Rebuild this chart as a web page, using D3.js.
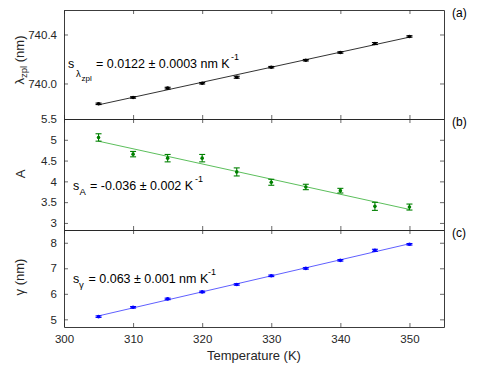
<!DOCTYPE html>
<html>
<head>
<meta charset="utf-8">
<script src="https://cdn.jsdelivr.net/npm/d3@7"></script>
<style>
  body { margin: 0; background: #fff; }
  svg { font-family: 'Liberation Sans', Arial, sans-serif; }
</style>
</head>
<body>
<svg id="chart" width="491" height="368"></svg>
<script>
// measured data, temperature in K
const temps = [305, 310, 315, 320, 325, 330, 335, 340, 345, 350]

const lambdaZpl = [739.834, 739.886, 739.962, 740.002, 740.051, 740.133, 740.190, 740.253, 740.326, 740.384]
const lambdaErr = [0.006, 0.006, 0.007, 0.006, 0.008, 0.006, 0.006, 0.006, 0.008, 0.006]

const ampA = [5.056, 4.655, 4.558, 4.558, 4.227, 3.978, 3.865, 3.776, 3.399, 3.382]
const ampErr = [0.089, 0.065, 0.089, 0.089, 0.097, 0.072, 0.065, 0.056, 0.097, 0.072]

const gammaW = [5.106, 5.472, 5.800, 6.075, 6.366, 6.705, 6.996, 7.311, 7.705, 7.940]
const gammaErr = [0.03, 0.03, 0.03, 0.03, 0.03, 0.03, 0.03, 0.03, 0.04, 0.03]

const xTicks = [300, 310, 320, 330, 340, 350]

const margin = { left: 64, right: 444 }
const axisColor = '#262626'

const panels = [
  {
    key: 'a', top: 10, bottom: 119, domain: [739.71, 740.6],
    ticks: [740.0, 740.4], fmt: d3.format('.1f'),
    values: lambdaZpl, errors: lambdaErr,
    marker: '#000', line: '#333',
    labelY: 60
  },
  {
    key: 'b', top: 119, bottom: 230, domain: [2.83, 5.5],
    ticks: [3, 3.5, 4, 4.5, 5, 5.5], fmt: d3.format('~g'),
    values: ampA, errors: ampErr,
    marker: '#008000', line: '#5cbf5c',
    labelY: 174
  },
  {
    key: 'c', top: 230, bottom: 327, domain: [4.7, 8.5],
    ticks: [5, 6, 7, 8], fmt: d3.format('d'),
    values: gammaW, errors: gammaErr,
    marker: '#0000ff', line: '#6060ff',
    labelY: 277
  }
]

const svg = d3.select('#chart')

const x = d3.scaleLinear().domain([300, 355]).range([margin.left, margin.right])

function fit (xs, ys) {
  const mx = d3.mean(xs)
  const my = d3.mean(ys)
  let num = 0
  let den = 0
  xs.forEach((v, i) => {
    num += (v - mx) * (ys[i] - my)
    den += (v - mx) * (v - mx)
  })
  const slope = num / den
  return t => my + slope * (t - mx)
}

panels.forEach((p, pi) => {
  const y = d3.scaleLinear().domain(p.domain).range([p.bottom, p.top])
  const g = svg.append('g')

  // axes, all ticks pointing inward
  const left = g.append('g')
    .attr('transform', `translate(${margin.left},0)`)
    .call(d3.axisLeft(y).tickValues(p.ticks).tickFormat(p.fmt).tickSize(-4).tickSizeOuter(0).tickPadding(7))
  const right = g.append('g')
    .attr('transform', `translate(${margin.right},0)`)
    .call(d3.axisRight(y).tickValues(p.ticks).tickFormat('').tickSize(-4).tickSizeOuter(0))
  const top = g.append('g')
    .attr('transform', `translate(0,${p.top})`)
    .call(d3.axisTop(x).tickValues(xTicks).tickFormat('').tickSize(-4).tickSizeOuter(0))
  const bottom = g.append('g')
    .attr('transform', `translate(0,${p.bottom})`)
    .call(d3.axisBottom(x).tickValues(xTicks)
      .tickFormat(pi === panels.length - 1 ? d3.format('d') : '')
      .tickSize(-4).tickSizeOuter(0).tickPadding(8))

  for (const ax of [left, right, top, bottom]) {
    ax.select('.domain').attr('stroke', axisColor).attr('stroke-width', 0.9)
    ax.selectAll('.tick line').attr('stroke', axisColor).attr('stroke-width', 0.7)
    ax.selectAll('.tick text').attr('fill', axisColor).attr('font-size', 11.5).attr('font-family', null)
  }

  // fit line
  const f = fit(temps, p.values)
  g.append('path')
    .datum([temps[0], temps[temps.length - 1]])
    .attr('fill', 'none')
    .attr('stroke', p.line)
    .attr('stroke-width', 1)
    .attr('d', d3.line().x(d => x(d)).y(d => y(f(d))))

  // error bars
  const pts = temps.map((t, i) => ({ t, v: p.values[i], e: p.errors[i] }))
  const eb = g.selectAll('.eb').data(pts).enter().append('g')
    .attr('stroke', p.marker).attr('stroke-width', 1.1)
  eb.append('line')
    .attr('x1', d => x(d.t)).attr('x2', d => x(d.t))
    .attr('y1', d => y(d.v - d.e)).attr('y2', d => y(d.v + d.e))
  eb.append('line')
    .attr('x1', d => x(d.t) - 3).attr('x2', d => x(d.t) + 3)
    .attr('y1', d => y(d.v - d.e)).attr('y2', d => y(d.v - d.e))
  eb.append('line')
    .attr('x1', d => x(d.t) - 3).attr('x2', d => x(d.t) + 3)
    .attr('y1', d => y(d.v + d.e)).attr('y2', d => y(d.v + d.e))

  g.selectAll('.pt').data(pts).enter().append('circle')
    .attr('cx', d => x(d.t)).attr('cy', d => y(d.v))
    .attr('r', 1.8).attr('fill', p.marker)

  // panel letter
  g.append('text')
    .attr('x', 452).attr('y', p.top + 7)
    .attr('font-size', 12).attr('fill', '#000')
    .text(`(${p.key})`)
})

// y labels
const lamLabel = svg.append('text')
  .attr('transform', 'translate(24,60) rotate(-90)')
  .attr('text-anchor', 'middle').attr('font-size', 13).attr('fill', axisColor)
lamLabel.append('tspan').text('λ')
lamLabel.append('tspan').attr('font-size', 9.5).attr('dy', 3).text('zpl')
lamLabel.append('tspan').attr('dy', -3).text(' (nm)')

svg.append('text')
  .attr('transform', 'translate(25,174) rotate(-90)')
  .attr('text-anchor', 'middle').attr('font-size', 13).attr('fill', axisColor)
  .text('A')

svg.append('text')
  .attr('transform', 'translate(24,277) rotate(-90)')
  .attr('text-anchor', 'middle').attr('font-size', 13).attr('fill', axisColor)
  .text('γ (nm)')

// x label
svg.append('text')
  .attr('x', 254).attr('y', 360)
  .attr('text-anchor', 'middle').attr('font-size', 13).attr('fill', axisColor)
  .text('Temperature (K)')

// slope annotations
function annot (xs, ys, parts) {
  const t = svg.append('text').attr('fill', '#000')
  parts.forEach((pt, i) => {
    t.append('tspan')
      .attr('x', xs[i]).attr('y', ys[i])
      .attr('font-size', pt.size)
      .text(pt.text)
  })
}

annot([68, 76, 81.5, 96, 0], [68, 77, 81, 68, 60], [
  { text: 's', size: 12.5 },
  { text: 'λ', size: 9.5 },
  { text: 'zpl', size: 8 },
  { text: '= 0.0122 ± 0.0003 nm K', size: 12.5 },
  { text: '', size: 9 }
])
svg.append('text').attr('x', 231).attr('y', 60).attr('font-size', 9).text('-1')

annot([73, 79.5, 90], [190, 195, 190], [
  { text: 's', size: 12.5 },
  { text: 'A', size: 9.5 },
  { text: '= -0.036 ± 0.002 K', size: 12.5 }
])
svg.append('text').attr('x', 195).attr('y', 182).attr('font-size', 9).text('-1')

annot([73, 79, 88.5], [283, 288, 283], [
  { text: 's', size: 12.5 },
  { text: 'γ', size: 9.5 },
  { text: '= 0.063 ± 0.001 nm K', size: 12.5 }
])
svg.append('text').attr('x', 208).attr('y', 275).attr('font-size', 9).text('-1')
</script>
</body>
</html>
